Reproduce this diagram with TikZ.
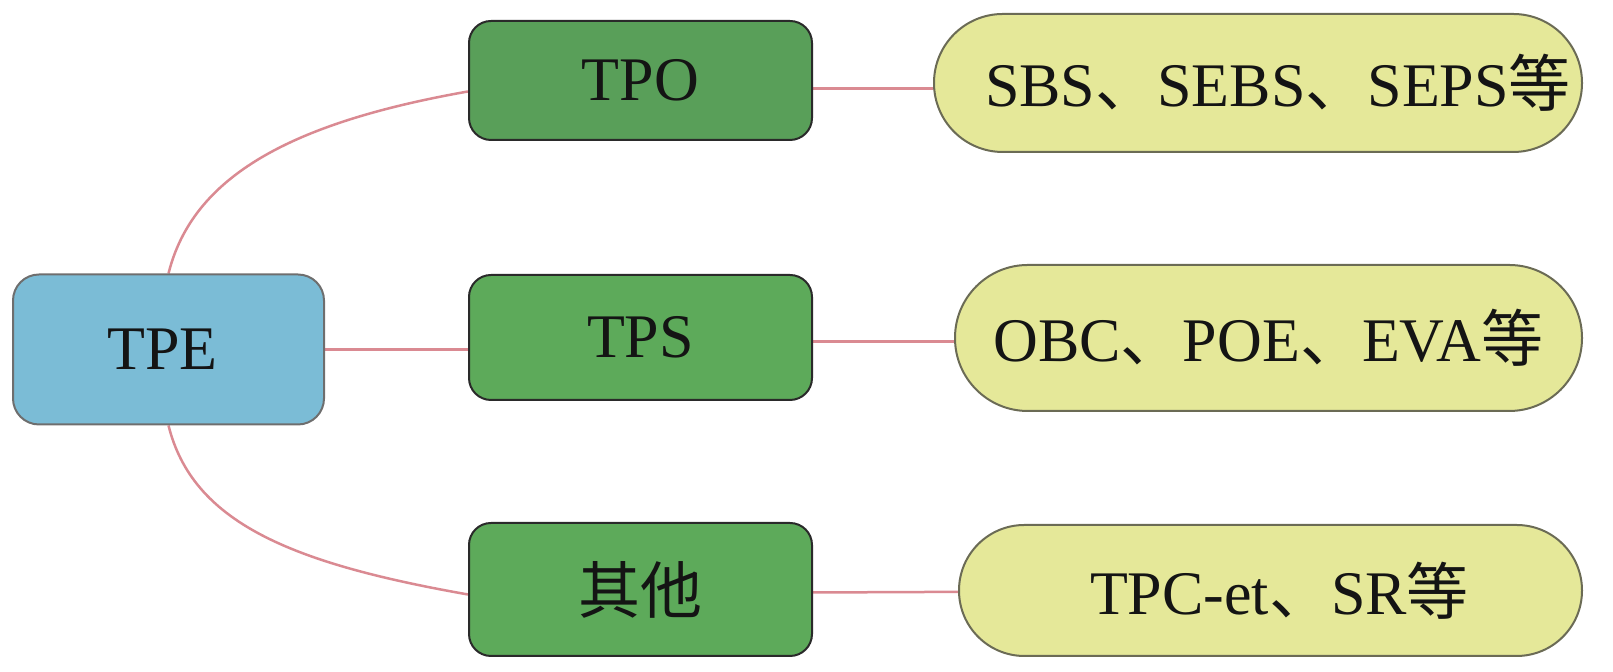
\documentclass[tikz,border=0pt]{standalone}
\usepackage{fontspec}
\setmainfont{Liberation Serif}
\newfontfamily\cjk{Noto Sans CJK SC}
\usetikzlibrary{calc,backgrounds}
\definecolor{tpeblue}{HTML}{7BBCD6}
\definecolor{tpogreen}{HTML}{599F59}
\definecolor{tpsgreen}{HTML}{5DAA5A}
\definecolor{ellfill}{HTML}{E5E899}
\definecolor{ellborder}{HTML}{6B6B55}
\definecolor{linkpink}{HTML}{DA8A92}
\definecolor{bordgray}{HTML}{6E6E6E}
\definecolor{bordark}{HTML}{2A2A2A}
\begin{document}
\begin{tikzpicture}[x=0.5pt,y=0.5pt,
  base/.style={line width=1pt, font=\fontsize{31}{37}\selectfont, inner sep=0pt, text=black!92},
  rootbox/.style={base, fill=tpeblue, draw=bordgray, rounded corners=13pt, minimum width=155.5pt, minimum height=75pt},
  midbox/.style={base, draw=bordark, rounded corners=11pt, minimum width=171.5pt},
  leafbox/.style={base, fill=ellfill, draw=ellborder},
  link/.style={draw=linkpink, line width=1.25pt}]
\useasboundingbox (0,0) rectangle (1613,672);
\node[rootbox] (tpe) at (168.5,322.5) {TPE\hspace*{6pt}};
\node[midbox, fill=tpogreen, minimum height=59.5pt] (tpo) at (640.5,591.5) {TPO};
\node[midbox, fill=tpsgreen, minimum height=62.5pt] (tps) at (640.5,334.5) {TPS};
\node[midbox, fill=tpsgreen, minimum height=66.5pt] (qt) at (640.5,82.5) {\cjk 其他};
\node[leafbox, minimum width=324pt, minimum height=69pt, rounded corners=34.4pt] (e1) at (1258,589) {\hspace*{20pt}SBS{\cjk 、}SEBS{\cjk 、}SEPS{\cjk 等}};
\node[leafbox, minimum width=313.5pt, minimum height=73pt, rounded corners=36.4pt] (e2) at (1268.5,334) {OBC{\cjk 、}POE{\cjk 、}EVA{\cjk 等}};
\node[leafbox, minimum width=311.5pt, minimum height=65.5pt, rounded corners=32.7pt] (e3) at (1270.5,81.5) {\hspace*{9pt}TPC-et{\cjk 、}SR{\cjk 等}};
\coordinate (tpoin) at ($(tpo.west)+(0,-11)$);
\coordinate (qtin) at ($(qt.west)+(0,-5)$);
\coordinate (tpoout) at ($(tpo.east)+(0,-8)$);
\coordinate (tpsout) at ($(tps.east)+(0,-4)$);
\coordinate (qtout) at ($(qt.east)+(0,-3)$);
\begin{pgfonlayer}{background}
\draw[link] (tpe.north) to[out=76,in=190,out distance=50pt,in distance=90pt] (tpoin);
\draw[link] (tpe.south) to[out=-76,in=170,out distance=50pt,in distance=90pt] (qtin);
\draw[link] (tpe.east) -- (tpe.east -| tps.west);
\draw[link] (tpoout) -- (tpoout -| e1.center);
\draw[link] (tpsout) -- (tpsout -| e2.center);
\draw[link] (qtout) -- (e3.center);
\end{pgfonlayer}
\end{tikzpicture}
\end{document}
